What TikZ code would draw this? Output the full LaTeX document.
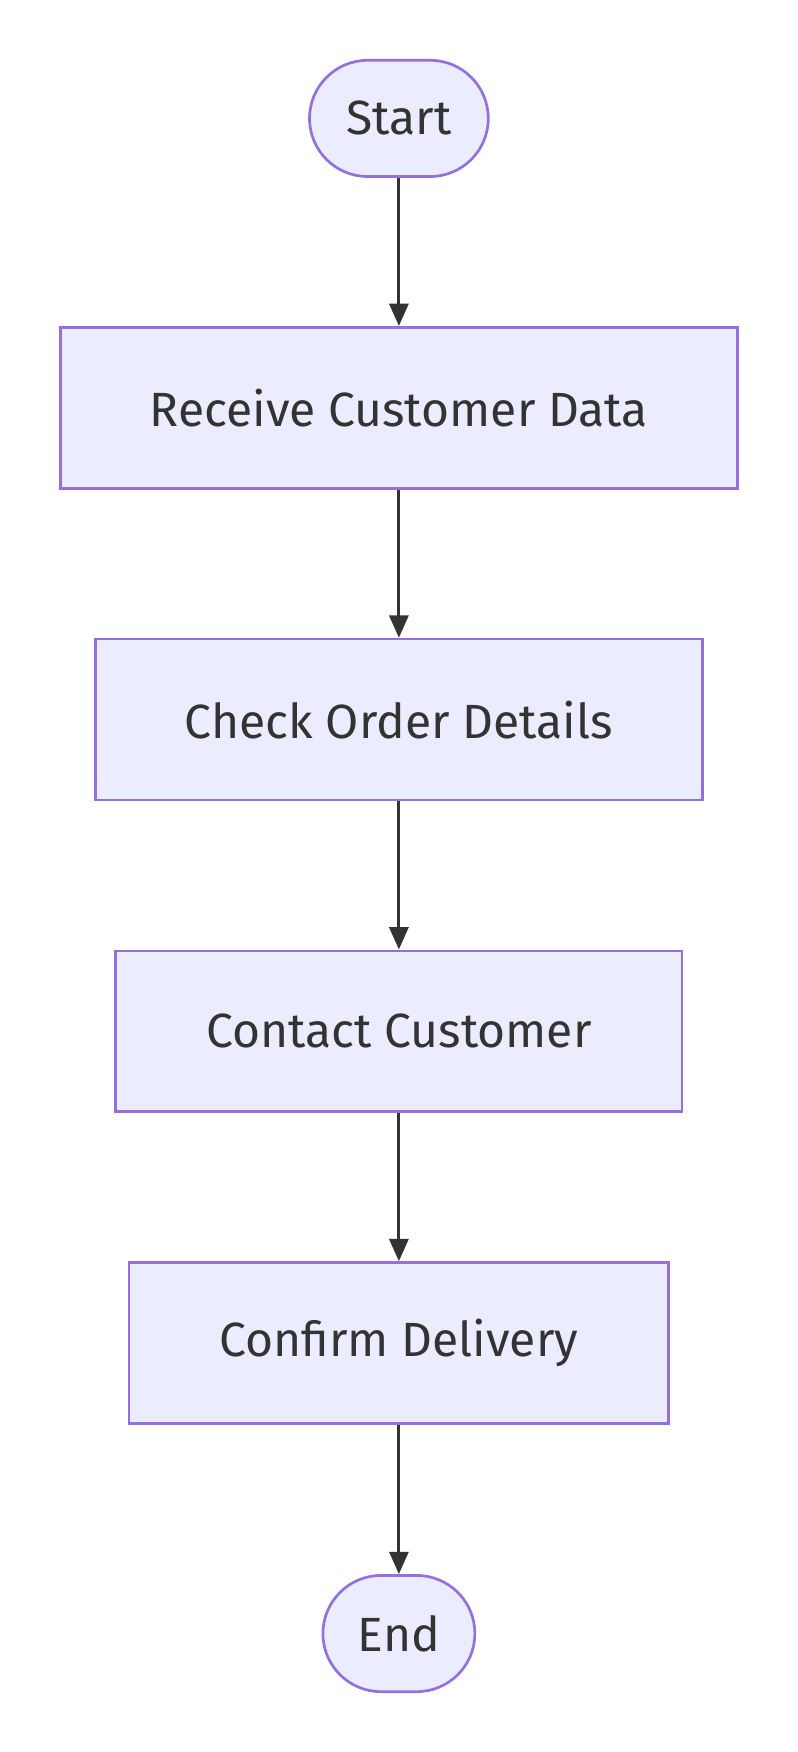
\documentclass[tikz,border=0pt]{standalone}
\usepackage{fontspec}
\setmainfont{Fira Sans}
\usetikzlibrary{arrows.meta}
\definecolor{boxfill}{HTML}{ECECFF}
\definecolor{boxline}{HTML}{9370DB}
\definecolor{ink}{HTML}{333333}
\tikzset{
  stage/.style={draw=boxline,fill=boxfill,line width=2.4pt,text=ink,
    font=\fontsize{43}{47}\selectfont,minimum height=144pt,inner sep=0pt},
  term/.style={stage,rounded corners=52pt,minimum height=104pt},
  flow/.style={draw=ink,line width=2.8pt,-{Triangle[length=20pt,width=17pt]}}
}
\begin{document}
\begin{tikzpicture}[x=1pt,y=1pt]
	\useasboundingbox (0,0) rectangle (714,1568);
	\node[term,minimum width=160pt] (start) at (357,1462) {Start};
	\node[stage,minimum width=606pt] (receive) at (357,1203) {Receive Customer Data};
	\node[stage,minimum width=543pt] (check) at (357,924) {Check Order Details};
	\node[stage,minimum width=507pt] (contact) at (357,645) {Contact Customer};
	\node[stage,minimum width=483pt] (confirm) at (357,366) {Confirm Delivery};
	\node[term,minimum width=136pt] (end) at (357,106) {End};

	\draw[flow] (start) -- (receive);
	\draw[flow] (receive) -- (check);
	\draw[flow] (check) -- (contact);
	\draw[flow] (contact) -- (confirm);
	\draw[flow] (confirm) -- (end);
\end{tikzpicture}
\end{document}
